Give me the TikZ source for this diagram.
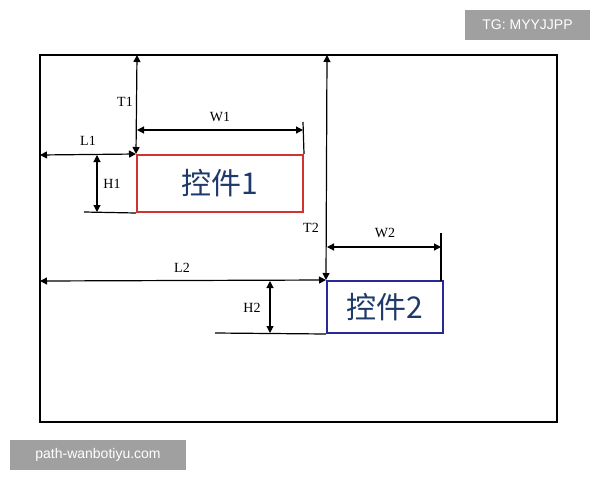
\documentclass[tikz,border=0pt]{standalone}
\usepackage{fontspec}
\setmainfont{Liberation Serif}
\newfontfamily\cjk{Noto Sans CJK SC}
\newfontfamily\wm{Liberation Sans}
\usetikzlibrary{arrows.meta}
\definecolor{ttxt}{HTML}{1F3A6A}
\definecolor{wmg}{HTML}{A0A0A0}
\tikzset{dim/.style={line width=1.2pt,{Triangle[length=7pt,width=7pt]}-{Triangle[length=7pt,width=7pt]}},
 ln/.style={line width=1.2pt},
 lab/.style={font=\fontsize{14}{16}\selectfont},
 ctl/.style={draw,line width=2pt,font=\cjk\fontsize{30}{32}\selectfont,text=ttxt,inner sep=0pt},
 wmk/.style={fill=wmg,text=white,font=\wm\fontsize{14}{16}\selectfont,inner sep=0pt}}
\begin{document}
\begin{tikzpicture}[x=1pt,y=-1pt]
\useasboundingbox (0,0) rectangle (600,480);
\draw[line width=2pt] (40,55) rectangle (557,422);
\node[ctl,draw={rgb,255:red,210;green,50;blue,50},minimum width=166pt,minimum height=57pt] (b1) at (220,183.5) {控件1};
\node[ctl,draw={rgb,255:red,40;green,40;blue,150},minimum width=116pt,minimum height=52pt] (b2) at (385,307) {控件2};
\coordinate (t1a) at (137,55);
\coordinate (t2a) at (327,55);
\coordinate (l1a) at (40,155);
\coordinate (l2a) at (40,281);
\coordinate (w1a) at (137,130); \coordinate (w1b) at (303,130);
\coordinate (w2a) at (327,247); \coordinate (w2b) at (441,247);
\coordinate (h1a) at (97,155); \coordinate (h1b) at (97,212);
\coordinate (h2a) at (270,281); \coordinate (h2b) at (270,333);
\draw[dim] (t1a) -- (b1.north west);
\draw[dim] (t2a) -- (b2.north west);
\draw[dim] (l1a) -- (b1.north west);
\draw[dim] (l2a) -- (b2.north west);
\draw[dim] (w1a) -- (w1b);
\draw[dim] (w2a) -- (w2b);
\draw[dim] (h1a) -- (h1b);
\draw[dim] (h2a) -- (h2b);
\draw[ln] (303,122) -- (b1.north east);
\draw[ln] (441,233) -- (441,281);
\draw[ln] (84,212) -- (b1.south west);
\draw[ln] (215,333) -- (b2.south west);
\node[lab] (lt1) at (125,102) {T1};
\node[lab] (lw1) at (220,117) {W1};
\node[lab] (ll1) at (88,141) {L1};
\node[lab] (lh1) at (112,184) {H1};
\node[lab] (lt2) at (311,228) {T2};
\node[lab] (lw2) at (385,233) {W2};
\node[lab] (ll2) at (182,268) {L2};
\node[lab] (lh2) at (252,308) {H2};
\node[wmk,minimum width=125pt,minimum height=30pt] (wm1) at (527.5,25) {TG: MYYJJPP};
\node[wmk,minimum width=176pt,minimum height=30pt] (wm2) at (98,455) {path-wanbotiyu.com};
\end{tikzpicture}
\end{document}
